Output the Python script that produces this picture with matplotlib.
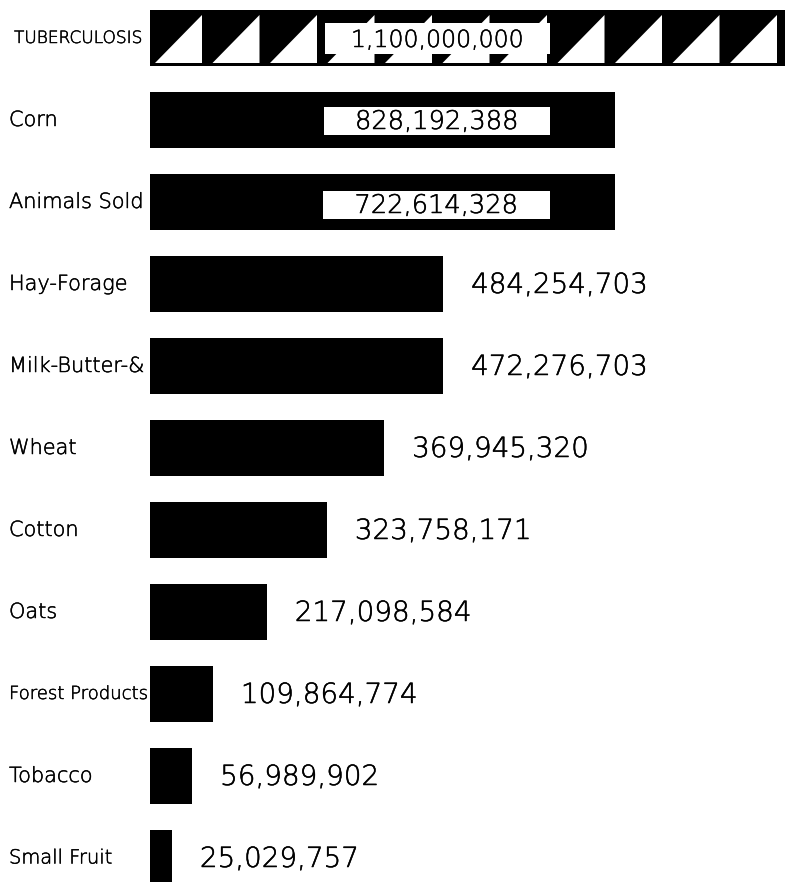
import matplotlib
matplotlib.use("Agg")
import matplotlib.pyplot as plt
import matplotlib.patheffects as pe
from matplotlib.patches import Rectangle, Polygon

# ---- data ----
categories = ["Tuberculosis", "Corn", "Animals Sold", "Hay-Forage", "Milk-Butter-&",
              "Wheat", "Cotton", "Oats", "Forest Products", "Tobacco", "Small Fruit"]
value_labels = ["1,100,000,000", "828,192,388", "722,614,328", "484,254,703", "472,276,703",
                "369,945,320", "323,758,171", "217,098,584", "109,864,774", "56,989,902",
                "25,029,757"]
# bar lengths as drawn on the chart (millions of dollars, chart scale)
bar_lengths = [1160, 828, 828, 522, 522, 417, 315, 208, 112, 75, 39]
# which labels sit inside a white box on the bar
boxed = [True, True, True, False, False, False, False, False, False, False, False]

W, H = 785, 882
K = 1.781           # millions per pixel
X0 = 150            # pixel where bars start
ROW0, ROWSTEP = 38, 82

def px2x(px):
    return (px - X0) * K

def py2y(py):
    return (py - ROW0) / ROWSTEP

FONT = "DejaVu Sans"
WT = 200
FX = [pe.withStroke(linewidth=0.35, foreground="black")]
fig = plt.figure(figsize=(W / 100, H / 100), dpi=100)
fig.patch.set_facecolor("white")
ax = fig.add_axes([0, 0, 1, 1])
ax.set_xlim(px2x(0), px2x(W))
ax.set_ylim(py2y(H), py2y(0))
ax.axis("off")

ypos = list(range(len(categories)))
bar_h = 56 / ROWSTEP
ax.barh(ypos, bar_lengths, height=bar_h, left=0, color="black", zorder=2)

# diagonal white triangles on the Tuberculosis bar
edge = 202
while edge < W + 60:
    tri = Polygon([(px2x(edge - 47), py2y(63)), (px2x(edge), py2y(15)), (px2x(edge), py2y(63))],
                  closed=True, facecolor="white", edgecolor="none", zorder=3)
    ax.add_patch(tri)
    edge += 57.5

# boxes for labels inside bars: x1, x2, y1, y2, text baseline (pixels)
box_px = {0: (325, 550, 23, 54, 47), 1: (324, 550, 107, 135, 129), 2: (323, 550, 191, 219, 213)}
label_size = {"Forest Products": 13, "Small Fruit": 14}

for i, (cat, lab, L) in enumerate(zip(categories, value_labels, bar_lengths)):
    if i == 0:
        ax.text(px2x(14), i, "TUBERCULOSIS", fontsize=12.2, family=FONT, weight=WT,
                va="center", ha="left", path_effects=FX)
    else:
        ax.text(px2x(9), i, cat, fontsize=label_size.get(cat, 15), family=FONT, weight=WT,
                va="center", ha="left", path_effects=FX)
    if boxed[i]:
        x1, x2, y1, y2, yb = box_px[i]
        ax.add_patch(Rectangle((px2x(x1), py2y(y1)), px2x(x2) - px2x(x1), py2y(y2) - py2y(y1),
                               facecolor="white", edgecolor="none", zorder=4))
        ax.text((px2x(x1) + px2x(x2)) / 2, py2y(yb), lab,
                fontsize=17 if i == 0 else 18.5, family=FONT, weight=WT,
                va="baseline", ha="center", zorder=5, path_effects=FX)
    else:
        ax.text(L + 28 * K, i + 9 / ROWSTEP, lab, fontsize=20, family=FONT, weight=WT,
                va="baseline", ha="left", path_effects=FX)

fig.savefig("out.png", dpi=100, facecolor="white")
